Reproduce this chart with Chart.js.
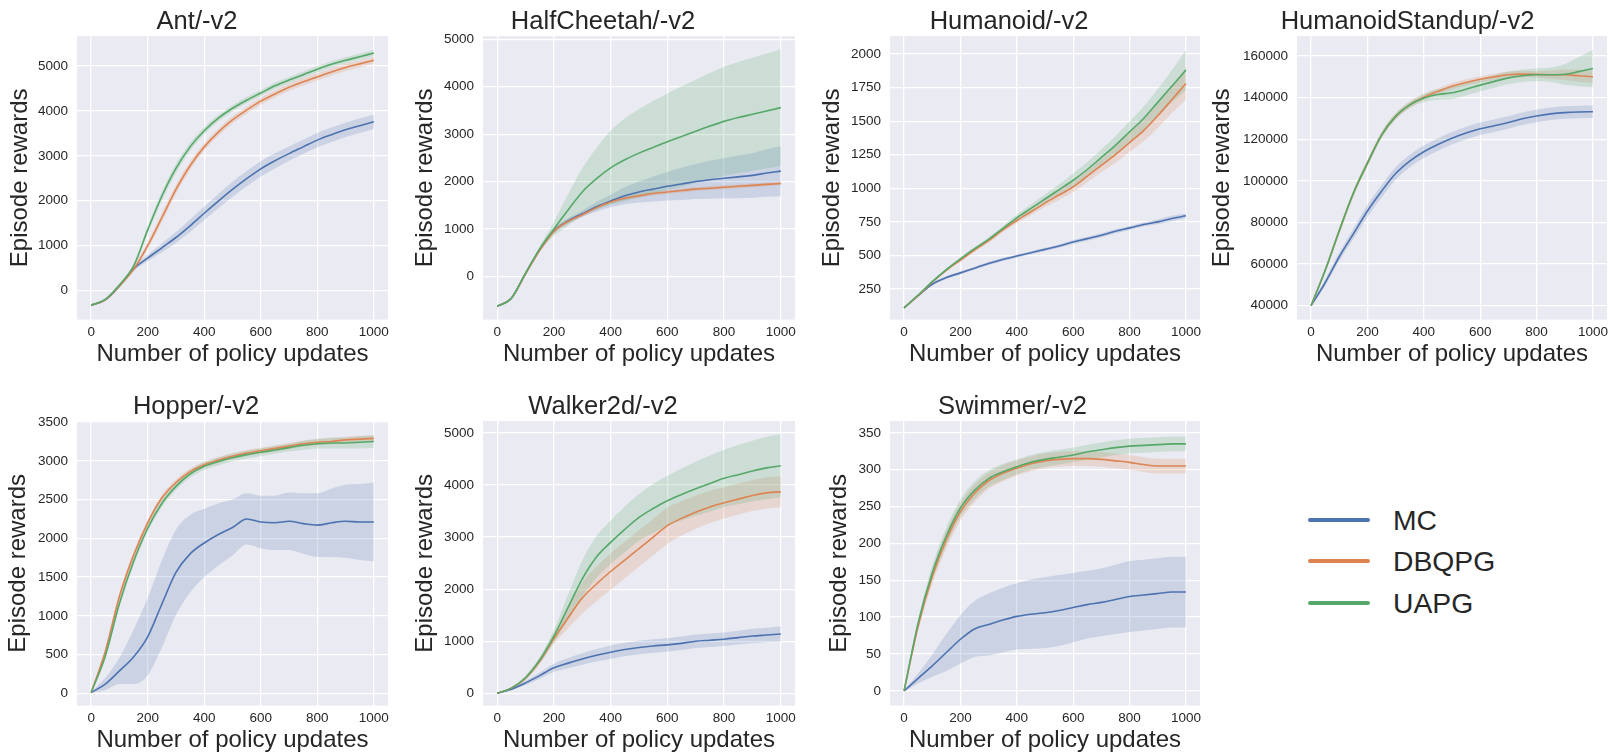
<!DOCTYPE html>
<html>
<head>
<meta charset="utf-8">
<script src="https://cdn.jsdelivr.net/npm/chart.js@4.4.0/dist/chart.umd.min.js"></script>
<style>
  body { margin: 0; background: #fff; width: 1611px; height: 754px; position: relative; overflow: hidden; font-family: "Liberation Sans", Arial, sans-serif; }
  canvas { position: absolute; }
  .key { position: absolute; left: 1308px; width: 62px; height: 4px; border-radius: 2px; }
  .key span { position: absolute; left: 85px; top: 2px; transform: translateY(-50%); font-size: 28.3px; color: #262626; white-space: nowrap; }
</style>
</head>
<body>

<div class="key" style="top:518px;background:#4C72B0"><span>MC</span></div>
<div class="key" style="top:559px;background:#DD8452"><span>DBQPG</span></div>
<div class="key" style="top:601px;background:#55A868"><span>UAPG</span></div>

<script>
// x: number of policy updates
const updates = [0, 50, 100, 150, 200, 250, 300, 350, 400, 450, 500, 550, 600, 650, 700, 750, 800, 850, 900, 950, 1000]
const xTicks = [0, 200, 400, 600, 800, 1000]

// Ant
const antTicks = [0, 1000, 2000, 3000, 4000, 5000]
const antMC   = [-330, -210, 100, 480, 720, 950, 1180, 1440, 1720, 1990, 2250, 2490, 2710, 2890, 3050, 3200, 3350, 3470, 3580, 3670, 3760]
const antMCsd = [20, 20, 30, 50, 70, 100, 120, 140, 150, 160, 170, 170, 170, 170, 160, 160, 160, 160, 160, 160, 160]
const antDB   = [-330, -210, 100, 470, 1000, 1620, 2250, 2780, 3200, 3530, 3800, 4020, 4220, 4380, 4530, 4650, 4760, 4870, 4970, 5050, 5130]
const antDBsd = [20, 20, 30, 50, 80, 100, 100, 90, 80, 80, 80, 80, 80, 80, 80, 80, 80, 80, 80, 80, 80]
const antUA   = [-330, -200, 120, 540, 1350, 2100, 2720, 3200, 3560, 3840, 4060, 4240, 4400, 4560, 4690, 4810, 4930, 5040, 5130, 5210, 5290]
const antUAsd = [20, 20, 30, 50, 80, 100, 100, 90, 80, 70, 70, 70, 70, 70, 70, 70, 70, 70, 70, 70, 70]

// HalfCheetah
const hcTicks = [0, 1000, 2000, 3000, 4000, 5000]
const hcMC   = [-630, -460, 60, 560, 960, 1170, 1320, 1470, 1590, 1700, 1780, 1840, 1900, 1950, 2000, 2040, 2070, 2100, 2130, 2180, 2220]
const hcMCsd = [10, 10, 20, 30, 50, 60, 70, 100, 130, 180, 220, 260, 300, 340, 370, 400, 420, 450, 470, 500, 530]
const hcDB   = [-630, -460, 50, 550, 950, 1160, 1300, 1450, 1570, 1650, 1700, 1750, 1780, 1810, 1840, 1860, 1880, 1900, 1920, 1940, 1960]
const hcDBsd = [10, 10, 20, 30, 40, 40, 40, 40, 40, 40, 40, 40, 40, 40, 40, 40, 40, 40, 40, 40, 40]
const hcUA   = [-630, -460, 70, 580, 1000, 1400, 1780, 2060, 2290, 2460, 2600, 2720, 2840, 2950, 3060, 3170, 3270, 3350, 3420, 3490, 3560]
const hcUAsd = [10, 10, 30, 60, 150, 330, 500, 650, 780, 870, 930, 980, 1020, 1060, 1090, 1120, 1150, 1170, 1190, 1210, 1230]

// Humanoid
const huTicks = [250, 500, 750, 1000, 1250, 1500, 1750, 2000]
const huMC   = [110, 200, 285, 335, 370, 405, 440, 470, 495, 520, 545, 570, 600, 625, 650, 680, 705, 730, 750, 775, 795]
const huMCsd = [5, 5, 8, 10, 10, 10, 12, 12, 12, 12, 12, 12, 15, 15, 15, 15, 15, 15, 18, 20, 20]
const huDB   = [110, 200, 300, 390, 465, 540, 610, 690, 760, 825, 890, 950, 1010, 1090, 1170, 1250, 1340, 1430, 1540, 1660, 1780]
const huDBsd = [5, 5, 8, 10, 10, 12, 15, 18, 20, 25, 30, 35, 40, 45, 50, 60, 70, 80, 90, 100, 120]
const huUA   = [110, 205, 305, 395, 475, 550, 620, 700, 780, 850, 920, 990, 1060, 1140, 1230, 1320, 1420, 1520, 1640, 1760, 1880]
const huUAsd = [5, 5, 8, 10, 10, 12, 15, 18, 25, 30, 35, 40, 50, 55, 60, 70, 80, 90, 100, 120, 150]

// HumanoidStandup
const hsTicks = [40000, 60000, 80000, 100000, 120000, 140000, 160000]
const hsMC   = [40000, 51000, 63500, 74500, 85500, 95000, 103500, 109500, 114000, 117500, 120500, 123000, 125000, 126500, 128000, 129800, 131200, 132200, 132800, 133100, 133200]
const hsMCsd = [500, 1500, 2000, 2500, 3000, 3000, 3000, 3000, 3000, 3000, 3000, 3000, 3000, 3000, 3000, 3000, 3000, 3000, 3000, 3000, 3000]
const hsDB   = [40000, 57000, 76000, 94000, 108500, 122000, 131000, 136500, 140200, 143000, 145500, 147300, 148800, 150000, 151000, 151300, 151200, 151000, 151000, 150500, 150000]
const hsDBsd = [500, 1000, 1500, 1500, 1500, 1500, 1500, 1500, 1500, 1500, 1500, 1500, 1500, 1500, 1500, 1500, 1500, 2000, 2500, 3000, 3000]
const hsUA   = [40000, 57000, 76000, 94000, 108500, 122000, 131000, 136500, 139800, 141500, 142300, 144000, 146000, 147800, 149500, 150500, 151000, 151000, 151200, 152500, 154000]
const hsUAsd = [500, 1000, 1500, 1500, 1500, 1500, 1500, 1500, 2000, 2500, 3000, 3000, 3000, 3000, 3000, 3000, 3000, 3500, 5000, 7000, 9000]

// Hopper
const hoTicks = [0, 500, 1000, 1500, 2000, 2500, 3000, 3500]
const hoMC   = [10, 120, 290, 470, 730, 1150, 1560, 1800, 1940, 2050, 2140, 2250, 2210, 2200, 2220, 2190, 2170, 2200, 2220, 2210, 2210]
const hoMCsd = [5, 80, 170, 350, 500, 560, 550, 500, 440, 400, 360, 330, 340, 350, 370, 390, 410, 440, 470, 490, 510]
const hoDB   = [10, 540, 1250, 1780, 2200, 2520, 2720, 2860, 2950, 3010, 3060, 3100, 3130, 3160, 3190, 3220, 3240, 3250, 3270, 3280, 3290]
const hoDBsd = [5, 30, 40, 40, 40, 40, 40, 40, 40, 40, 40, 40, 40, 40, 40, 40, 40, 40, 40, 40, 40]
const hoUA   = [10, 480, 1160, 1700, 2130, 2450, 2670, 2830, 2930, 2990, 3040, 3080, 3110, 3140, 3170, 3200, 3220, 3230, 3230, 3240, 3250]
const hoUAsd = [5, 30, 50, 50, 50, 50, 50, 50, 50, 50, 50, 50, 50, 50, 50, 60, 60, 70, 70, 80, 80]

// Walker2d
const wkTicks = [0, 1000, 2000, 3000, 4000, 5000]
const wkMC   = [0, 80, 200, 340, 490, 580, 660, 730, 790, 840, 880, 910, 930, 960, 1000, 1020, 1040, 1070, 1100, 1120, 1140]
const wkMCsd = [5, 20, 40, 60, 80, 100, 110, 120, 130, 130, 130, 130, 130, 130, 130, 130, 130, 130, 140, 140, 150]
const wkDB   = [0, 100, 290, 620, 1050, 1450, 1830, 2100, 2340, 2560, 2780, 3000, 3220, 3360, 3480, 3580, 3660, 3730, 3800, 3850, 3870]
const wkDBsd = [5, 20, 40, 60, 100, 200, 300, 330, 350, 350, 350, 350, 350, 330, 320, 310, 300, 300, 300, 300, 300]
const wkUA   = [0, 100, 300, 640, 1100, 1650, 2200, 2620, 2900, 3150, 3380, 3550, 3700, 3820, 3930, 4030, 4130, 4200, 4270, 4330, 4370]
const wkUAsd = [5, 20, 40, 60, 120, 250, 350, 400, 420, 440, 450, 470, 480, 500, 520, 540, 550, 570, 580, 600, 610]

// Swimmer
const swTicks = [0, 50, 100, 150, 200, 250, 300, 350]
const swMC   = [0, 17, 34, 52, 70, 84, 90, 96, 101, 104, 106, 109, 113, 117, 120, 124, 128, 130, 132, 134, 134]
const swMCsd = [1, 7, 15, 25, 33, 38, 42, 44, 45, 47, 48, 48, 47, 46, 46, 47, 48, 48, 48, 48, 48]
const swDB   = [0, 88, 155, 205, 243, 268, 285, 295, 302, 308, 312, 314, 315, 315, 314, 312, 310, 307, 305, 305, 305]
const swDBsd = [1, 6, 10, 12, 12, 12, 11, 11, 10, 10, 10, 10, 10, 10, 10, 10, 10, 10, 10, 10, 10]
const swUA   = [0, 92, 160, 210, 248, 272, 288, 297, 304, 310, 314, 317, 320, 324, 327, 330, 332, 333, 334, 335, 335]
const swUAsd = [1, 6, 10, 12, 12, 12, 11, 11, 10, 10, 10, 10, 10, 10, 10, 10, 10, 10, 10, 10, 10]

const colors = { MC: "#4C72B0", DBQPG: "#DD8452", UAPG: "#55A868" }
const bands = { MC: "rgba(76,114,176,0.2)", DBQPG: "rgba(221,132,82,0.2)", UAPG: "rgba(85,168,104,0.2)" }
const ink = "#262626"

Chart.defaults.font.family = "'Liberation Sans', Arial, sans-serif"
Chart.defaults.color = ink

// seaborn darkgrid background
const darkgrid = {
    id: "darkgrid",
    beforeDraw(chart) {
        const { ctx, chartArea: a } = chart
        ctx.save()
        ctx.fillStyle = "#EAEAF2"
        ctx.fillRect(a.left, a.top, a.right - a.left, a.bottom - a.top)
        ctx.restore()
    }
}

function points(values) {
    return values.map((y, i) => ({ x: updates[i], y }))
}

function seriesDatasets(name, mean, sd, order) {
    const hidden = { borderWidth: 0, borderColor: "transparent", pointRadius: 0, cubicInterpolationMode: "monotone", order: order + 10 }
    return [
        { ...hidden, data: points(mean.map((m, i) => m + sd[i])), fill: false },
        { ...hidden, data: points(mean.map((m, i) => m - sd[i])), fill: "-1", backgroundColor: bands[name] },
        { data: points(mean), borderColor: colors[name], borderWidth: 1.6, pointRadius: 0, fill: false, cubicInterpolationMode: "monotone", order: order }
    ]
}

// plot area box (L, T, R, B), y-title centre x
function displayPanel(title, box, yTitleX, yMin, yMax, yTicks, mc, db, ua) {
    const titleH = 25.5 * 1.1
    const xh = 49.4
    const left = Math.round(yTitleX - 14.4)
    const top = Math.round(box.T - titleH)
    const yw = box.L - left
    const width = box.R - left + 10
    const height = Math.round(box.B + xh) - top

    const canvas = document.createElement("canvas")
    canvas.width = width
    canvas.height = height
    canvas.style.left = left + "px"
    canvas.style.top = top + "px"
    document.body.appendChild(canvas)

    const tickFont = { size: 13.5 }
    const labelFont = { size: 24, lineHeight: 1.2 }

    return new Chart(canvas, {
        type: "line",
        data: {
            datasets: [
                ...seriesDatasets("MC", mc[0], mc[1], 3),
                ...seriesDatasets("DBQPG", db[0], db[1], 2),
                ...seriesDatasets("UAPG", ua[0], ua[1], 1)
            ]
        },
        options: {
            responsive: false,
            animation: false,
            layout: { padding: { left: 0, top: 0, bottom: 0, right: 10 } },
            plugins: {
                legend: { display: false },
                tooltip: { enabled: false },
                filler: { drawTime: "beforeDatasetsDraw" },
                title: { display: true, text: title, color: ink, font: { size: 25.5, weight: "normal", lineHeight: 1.1 }, padding: 0 }
            },
            scales: {
                x: {
                    type: "linear", min: -50, max: 1050,
                    afterBuildTicks(scale) { scale.ticks = xTicks.map(v => ({ value: v })) },
                    ticks: { autoSkip: false, padding: 5, maxRotation: 0, font: tickFont, color: ink, callback: v => String(v) },
                    grid: { color: "#ffffff", lineWidth: 1.3, drawTicks: false },
                    border: { display: false },
                    title: { display: true, text: "Number of policy updates", font: labelFont, color: ink, padding: 0 },
                    afterFit(scale) { scale.height = xh }
                },
                y: {
                    type: "linear", min: yMin, max: yMax,
                    afterBuildTicks(scale) { scale.ticks = yTicks.map(v => ({ value: v })) },
                    ticks: { autoSkip: false, padding: 9, font: tickFont, color: ink, callback: v => String(v) },
                    grid: { color: "#ffffff", lineWidth: 1.3, drawTicks: false },
                    border: { display: false },
                    title: { display: true, text: "Episode rewards", font: labelFont, color: ink, padding: 0 },
                    afterFit(scale) { scale.width = yw }
                }
            }
        },
        plugins: [darkgrid]
    })
}

displayPanel("Ant/-v2", { L: 77, T: 36, R: 388, B: 320 }, 20, -650, 5670, antTicks,
    [antMC, antMCsd], [antDB, antDBsd], [antUA, antUAsd])
displayPanel("HalfCheetah/-v2", { L: 483, T: 36, R: 795, B: 320 }, 425, -912, 5070, hcTicks,
    [hcMC, hcMCsd], [hcDB, hcDBsd], [hcUA, hcUAsd])
displayPanel("Humanoid/-v2", { L: 890, T: 36, R: 1200, B: 320 }, 832, 22, 2134, huTicks,
    [huMC, huMCsd], [huDB, huDBsd], [huUA, huUAsd])
displayPanel("HumanoidStandup/-v2", { L: 1297, T: 36, R: 1607, B: 320 }, 1222, 33280, 169600, hsTicks,
    [hsMC, hsMCsd], [hsDB, hsDBsd], [hsUA, hsUAsd])
displayPanel("Hopper/-v2", { L: 77, T: 421, R: 388, B: 706 }, 18, -158, 3513, hoTicks,
    [hoMC, hoMCsd], [hoDB, hoDBsd], [hoUA, hoUAsd])
displayPanel("Walker2d/-v2", { L: 483, T: 421, R: 795, B: 706 }, 425, -236, 5230, wkTicks,
    [wkMC, wkMCsd], [wkDB, wkDBsd], [wkUA, wkUAsd])
displayPanel("Swimmer/-v2", { L: 890, T: 421, R: 1200, B: 706 }, 839, -20, 366, swTicks,
    [swMC, swMCsd], [swDB, swDBsd], [swUA, swUAsd])
</script>
</body>
</html>
